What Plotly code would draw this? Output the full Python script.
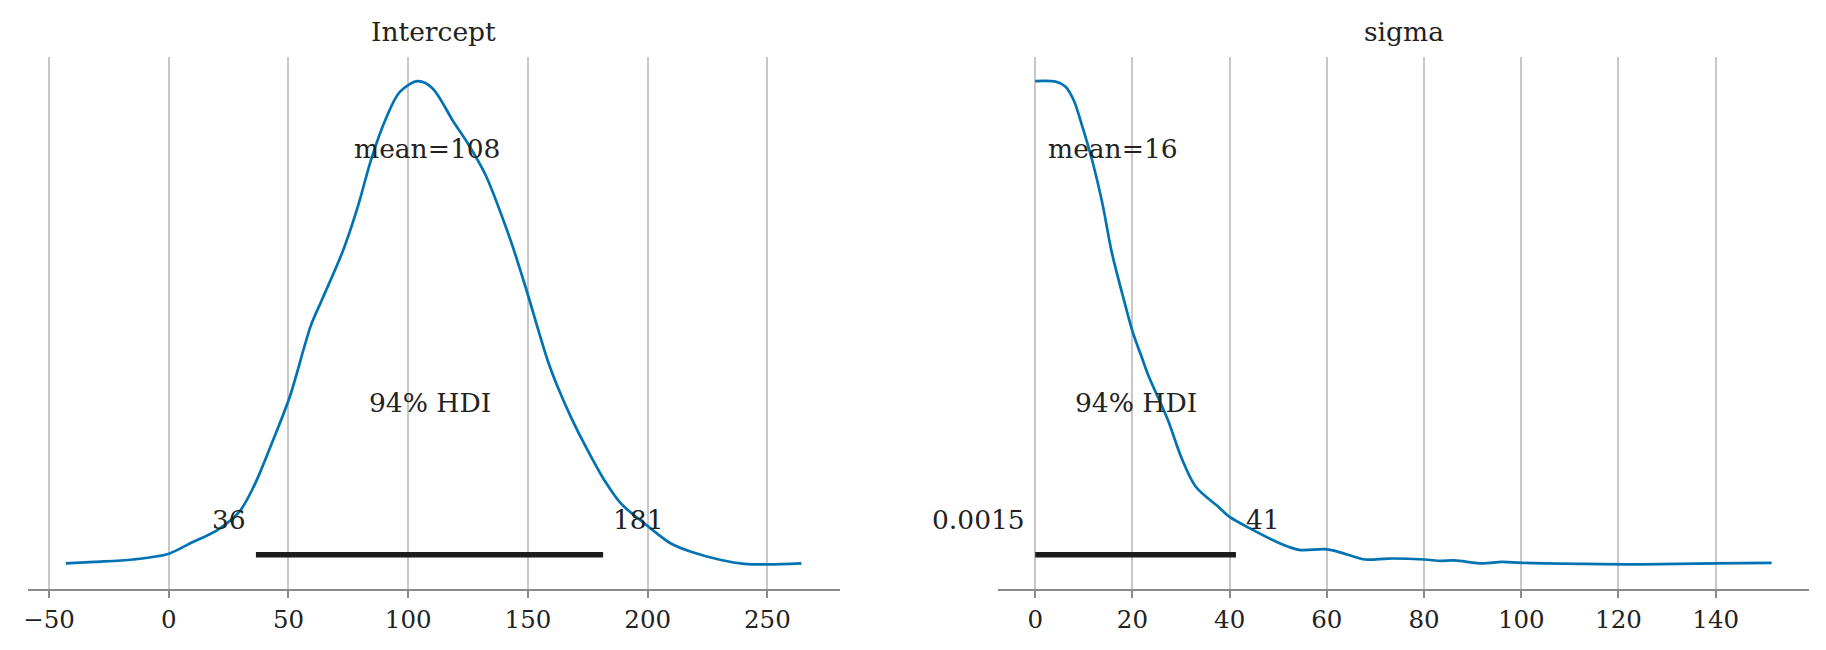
import plotly.graph_objects as go

# ---------------- data ----------------
# Posterior density (scaled so that the peak = 1)
intercept_x = [-43.0, -31.0, -15.0, 0.0, 8.8, 20.6, 29.5, 35.5, 43.0, 50.5, 59.3, 63.8,
               72.8, 78.8, 84.7, 90.7, 96.5, 104.0, 110.0, 118.9, 124.9, 132.4, 140.0,
               143.5, 148.9, 158.2, 162.4, 167.9, 174.9, 181.9, 188.8, 200.3, 209.7,
               218.1, 230.6, 240.4, 250.4, 264.2]
intercept_density = [0.003, 0.006, 0.011, 0.023, 0.044, 0.073, 0.110, 0.162, 0.251, 0.347,
                     0.494, 0.546, 0.650, 0.738, 0.841, 0.923, 0.978, 1.000, 0.986, 0.916,
                     0.871, 0.805, 0.709, 0.660, 0.576, 0.423, 0.368, 0.306, 0.237, 0.175,
                     0.127, 0.079, 0.044, 0.027, 0.010, 0.002, 0.001, 0.003]

sigma_x = [0.0, 4.2, 6.2, 7.9, 9.7, 11.7, 13.8, 15.8, 17.9, 20.1, 22.0, 23.3, 27.2, 30.1,
           33.0, 37.9, 40.0, 44.6, 50.4, 54.3, 60.1, 64.0, 67.9, 72.7, 80.1, 83.4, 86.2,
           92.1, 96.0, 100.1, 112.2, 124.6, 140.0, 151.5]
sigma_density = [1.000, 0.999, 0.989, 0.961, 0.906, 0.837, 0.748, 0.644, 0.561, 0.480,
                 0.427, 0.391, 0.302, 0.221, 0.162, 0.118, 0.099, 0.073, 0.044, 0.031,
                 0.032, 0.022, 0.011, 0.013, 0.011, 0.008, 0.009, 0.003, 0.006, 0.004,
                 0.002, 0.001, 0.003, 0.004]

var_names = ["Intercept", "sigma"]
means = [108, 16]
mean_labels = ["mean=108", "mean=16"]
hdi_low = [36.4, 0.0015]
hdi_high = [181.4, 41.3]
hdi_low_labels = ["36", "0.0015"]
hdi_high_labels = ["181", "41"]
hdi_label = "94% HDI"

intercept_ticks = [-50, 0, 50, 100, 150, 200, 250]
sigma_ticks = [0, 20, 40, 60, 80, 100, 120, 140]

# ---------------- style ----------------
# the page body has an 8px margin, so the figure is drawn 16px smaller
# and every position is measured from the page origin minus 8px
OFF = 8
W, H = 1826 - 2 * OFF, 650 - 2 * OFF
FONT = "DejaVu Serif"
TEXT = "#222222"
BLUE = "#0173b2"
HDI_COLOR = "#1c1c1c"
GRID = "#c8c8c8"
SPINE = "#8c8c8c"

plot_top = 1.05  # top of y range (density scale)
yrange = [-0.05, 1.05]

top_px, bottom_px = 57 - OFF, 589 - OFF

fig = go.Figure()

curves = [(intercept_x, intercept_density), (sigma_x, sigma_density)]
for i, (xs, ys) in enumerate(curves):
    ax = "" if i == 0 else str(i + 1)
    fig.add_trace(go.Scatter(
        x=xs, y=ys, mode="lines",
        line=dict(color=BLUE, width=2.7, shape="spline", smoothing=0.9),
        xaxis="x" + ax, yaxis="y" + ax, hoverinfo="skip", showlegend=False))
    fig.add_trace(go.Scatter(
        x=[hdi_low[i], hdi_high[i]], y=[plot_top * 0.02, plot_top * 0.02], mode="lines",
        line=dict(color=HDI_COLOR, width=5.5),
        xaxis="x" + ax, yaxis="y" + ax, hoverinfo="skip", showlegend=False))

LBL = 26.5
desc = -(0.236 * LBL + 1)
annotations = []
for i in range(2):
    ax = "" if i == 0 else str(i + 1)
    xr, yr = "x" + ax, "y" + ax
    common = dict(xref=xr, yref=yr, showarrow=False, yanchor="bottom", yshift=desc,
                  font=dict(family=FONT, size=LBL, color=TEXT))
    annotations.append(dict(x=means[i], y=plot_top * 0.8, text=mean_labels[i],
                            xanchor="center", **common))
    annotations.append(dict(x=(hdi_low[i] + hdi_high[i]) / 2, y=plot_top * 0.3,
                            text=hdi_label, xanchor="center", **common))
    annotations.append(dict(x=hdi_low[i], y=plot_top * 0.07, text=hdi_low_labels[i],
                            xanchor="right", xshift=-8, **common))
    annotations.append(dict(x=hdi_high[i], y=plot_top * 0.07, text=hdi_high_labels[i],
                            xanchor="left", xshift=8, **common))

domains = [[(23 - OFF) / W, (837 - OFF) / W], [(996 - OFF) / W, (1809 - OFF) / W]]
title_y = 1 + (top_px - (31.7 - OFF)) / (bottom_px - top_px)
for i, name in enumerate(var_names):
    annotations.append(dict(x=(domains[i][0] + domains[i][1]) / 2, y=title_y,
                            xref="paper", yref="paper", text=name, showarrow=False,
                            xanchor="center", yanchor="middle",
                            font=dict(family=FONT, size=26.5, color=TEXT)))

xcommon = dict(showgrid=True, gridcolor=GRID, gridwidth=1.5, zeroline=False,
               showline=True, linecolor=SPINE, linewidth=2.2,
               ticks="outside", ticklen=7, tickwidth=2, tickcolor=SPINE,
               tickfont=dict(family=FONT, size=24.5, color=TEXT),
               fixedrange=True)
ycommon = dict(visible=False, showgrid=False, zeroline=False, range=yrange, fixedrange=True)

fig.update_layout(
    width=W, height=H,
    margin=dict(l=0, r=0, t=top_px, b=H - bottom_px),
    paper_bgcolor="white", plot_bgcolor="white",
    xaxis=dict(domain=domains[0], range=[-58.8, 280.2], tickvals=intercept_ticks,
               anchor="y", **xcommon),
    yaxis=dict(domain=[0, 1], anchor="x", **ycommon),
    xaxis2=dict(domain=domains[1], range=[-7.6, 159.2], tickvals=sigma_ticks,
                anchor="y2", **xcommon),
    yaxis2=dict(domain=[0, 1], anchor="x2", **ycommon),
    annotations=annotations,
    showlegend=False,
)

fig.write_html("out.html")
